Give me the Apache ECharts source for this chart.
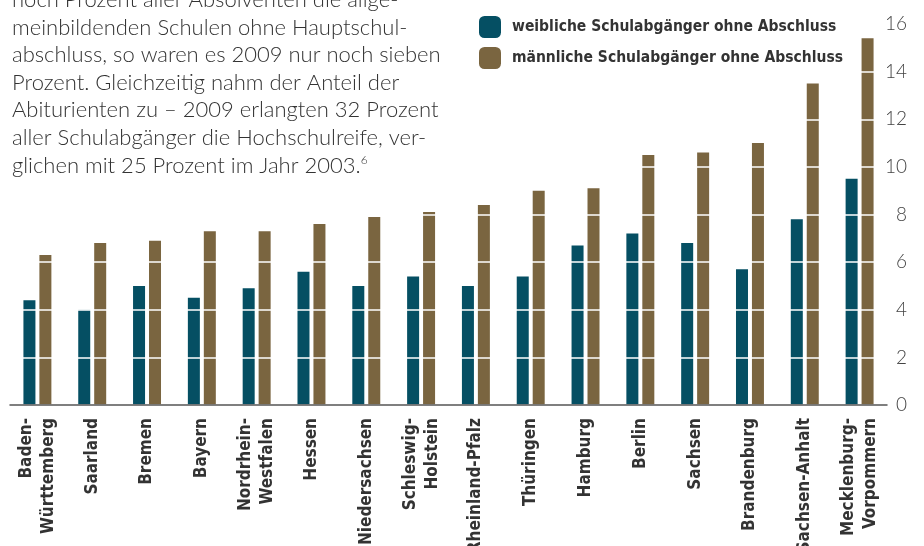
<!DOCTYPE html>
<html>
<head>
<meta charset="utf-8">
<script src="https://cdn.jsdelivr.net/npm/echarts@6/dist/echarts.min.js"></script>
<style>
  html, body { margin: 0; padding: 0; background: #fff; }
  #main { width: 924px; height: 546px; }
</style>
</head>
<body>
<div id="main"></div>
<script>
// Bundesländer, sorted by share of male school leavers without certificate
const states = [
  "Baden-\nWürttemberg", "Saarland", "Bremen", "Bayern", "Nordrhein-\nWestfalen",
  "Hessen", "Niedersachsen", "Schleswig-\nHolstein", "Rheinland-Pfalz", "Thüringen",
  "Hamburg", "Berlin", "Sachsen", "Brandenburg", "Sachsen-Anhalt", "Mecklenburg-\nVorpommern"
];
const female = [4.4, 4.0, 5.0, 4.5, 4.9, 5.6, 5.0, 5.4, 5.0, 5.4, 6.7, 7.2, 6.8, 5.7, 7.8, 9.5];
const male = [6.3, 6.8, 6.9, 7.3, 7.3, 7.6, 7.9, 8.1, 8.4, 9.0, 9.1, 10.5, 10.6, 11.0, 13.5, 15.4];
const yTicks = { min: 0, max: 16, step: 2 };

const introLines = [
  "noch Prozent aller Absolventen die allge-",
  "meinbildenden Schulen ohne Hauptschul-",
  "abschluss, so waren es 2009 nur noch sieben",
  "Prozent. Gleichzeitig nahm der Anteil der",
  "Abiturienten zu – 2009 erlangten 32 Prozent",
  "aller Schulabgänger die Hochschulreife, ver-",
  "glichen mit 25 Prozent im Jahr 2003.{s|6}"
];

const condensed = '"Liberation Sans Narrow", "DejaVu Sans Condensed", sans-serif';
const light = 'Lato, "Open Sans", sans-serif';

// paragraph above the chart, one text per line
const textEls = introLines.map((t, i) => ({
  type: "text",
  z: 20,
  style: {
    x: 12,
    y: i * 27.6,
    text: t,
    font: "300 22px " + light,
    fill: "#333",
    verticalAlign: "middle",
    rich: {
      s: { fontFamily: light, fontWeight: 300, fontSize: 12, verticalAlign: "top", padding: [0, 0, 6, 0] }
    }
  }
}));

const chart = echarts.init(document.getElementById("main"));
chart.setOption({
  animation: false,
  backgroundColor: "#fff",
  graphic: textEls,
  legend: {
    orient: "vertical",
    left: 474,
    top: 11,
    z: 20,
    itemWidth: 22,
    itemHeight: 22,
    itemGap: 9,
    icon: "roundRect",
    textStyle: {
      fontFamily: condensed,
      fontWeight: "bold",
      fontSize: 15.5,
      color: "#333",
      padding: [0, 0, 0, 6]
    },
    data: ["weibliche Schulabgänger ohne Abschluss", "männliche Schulabgänger ohne Abschluss"]
  },
  grid: { left: 10, right: 37, top: 24, bottom: 141, outerBoundsMode: "none", containLabel: false },
  xAxis: {
    type: "category",
    data: states,
    z: 6,
    axisLine: { lineStyle: { color: "#555", width: 1.5 } },
    axisTick: { show: false },
    axisLabel: {
      interval: 0,
      rotate: 90,
      margin: 13,
      fontFamily: condensed,
      fontWeight: "bold",
      fontSize: 17,
      lineHeight: 22,
      color: "#333"
    }
  },
  yAxis: {
    type: "value",
    position: "right",
    min: yTicks.min,
    max: yTicks.max,
    interval: yTicks.step,
    z: 5,
    axisLine: { show: false },
    axisTick: { show: false },
    splitLine: { lineStyle: { color: "#fff", width: 1.5 } },
    axisLabel: {
      align: "right",
      margin: 20,
      fontFamily: light,
      fontWeight: 300,
      fontSize: 19,
      color: "#444"
    }
  },
  series: [
    {
      name: "weibliche Schulabgänger ohne Abschluss",
      type: "bar",
      data: female,
      barWidth: 12,
      barGap: "33%",
      itemStyle: { color: "#054f63" }
    },
    {
      name: "männliche Schulabgänger ohne Abschluss",
      type: "bar",
      data: male,
      barWidth: 12,
      itemStyle: { color: "#7a6540" }
    }
  ]
});
</script>
</body>
</html>
